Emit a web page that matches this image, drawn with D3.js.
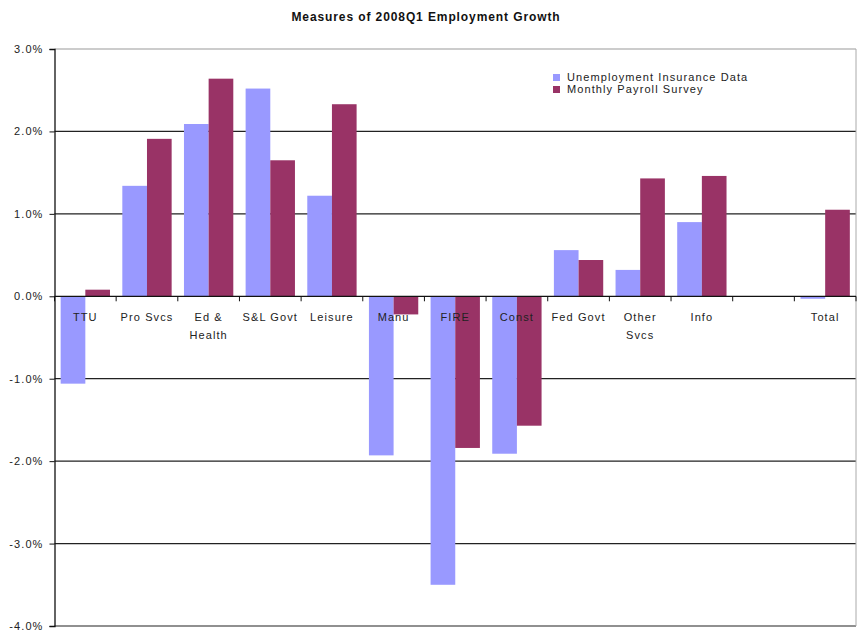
<!DOCTYPE html>
<html>
<head>
<meta charset="utf-8">
<script src="https://cdn.jsdelivr.net/npm/d3@7"></script>
<style>
  body { margin: 0; background: #fff; }
  text { font-family: 'Liberation Sans', Arial, sans-serif; }
</style>
</head>
<body>
<div id="container"></div>
<script>
const categories = ['TTU', 'Pro Svcs', 'Ed & Health', 'S&L Govt', 'Leisure', 'Manu', 'FIRE', 'Const', 'Fed Govt', 'Other Svcs', 'Info', '', 'Total'];
const series = ['Unemployment Insurance Data', 'Monthly Payroll Survey'];
const uiData = [-1.06, 1.34, 2.09, 2.52, 1.22, -1.93, -3.50, -1.91, 0.56, 0.32, 0.90, null, -0.03];
const payrollData = [0.08, 1.91, 2.64, 1.65, 2.33, -0.22, -1.84, -1.57, 0.44, 1.43, 1.46, null, 1.05];
const yTicks = [3, 2, 1, 0, -1, -2, -3, -4];
const colors = ['#9999ff', '#993366'];

const WIDTH = 857;
const HEIGHT = 635;

const svg = d3.select('#container').append('svg').attr('width', WIDTH).attr('height', HEIGHT);

const x = d3.scaleBand().domain(categories.map((d, i) => i)).range([54.5, 856]).paddingInner(0);
const x1 = d3.scaleBand().domain(series).range([0, x.bandwidth()]).paddingInner(0).paddingOuter(0.25);
const y = d3.scaleLinear().domain([-4, 3]).range([626, 49]);

// title
svg.append('text')
  .attr('x', 426).attr('y', 21)
  .attr('text-anchor', 'middle')
  .attr('font-size', 12).attr('font-weight', 'bold')
  .attr('letter-spacing', 0.9)
  .attr('fill', '#111')
  .text('Measures of 2008Q1 Employment Growth');

// gridlines
svg.append('g')
  .selectAll('line')
  .data(yTicks.filter((d) => d !== 0))
  .join('line')
  .attr('x1', 54.5).attr('x2', 856)
  .attr('y1', (d) => y(d)).attr('y2', (d) => y(d))
  .attr('stroke', (d) => (d === 3 ? '#999' : '#222'))
  .attr('stroke-width', 1.2);

// right border
svg.append('line')
  .attr('x1', 856).attr('x2', 856).attr('y1', y(3)).attr('y2', y(-4))
  .attr('stroke', '#aaa');

// bars
const rows = categories.map((c, i) => ({ i, values: [uiData[i], payrollData[i]] }));
const groups = svg.append('g').selectAll('g').data(rows).join('g')
  .attr('transform', (d) => `translate(${x(d.i)},0)`);

groups.selectAll('rect')
  .data((d) => d.values.map((v, k) => ({ v, k })).filter((e) => e.v !== null))
  .join('rect')
  .attr('x', (e) => x1(series[e.k]))
  .attr('width', x1.bandwidth())
  .attr('y', (e) => y(Math.max(0, e.v)))
  .attr('height', (e) => Math.max(1.5, Math.abs(y(e.v) - y(0))))
  .attr('fill', (e) => colors[e.k]);

// y axis
const yAxis = d3.axisLeft(y).tickValues(yTicks).tickSize(5).tickFormat((d) => d.toFixed(1) + '%');
svg.append('g')
  .attr('transform', 'translate(54.5,0)')
  .call(yAxis)
  .call((g) => g.select('.domain').attr('stroke', '#111').attr('stroke-width', 1.3))
  .call((g) => g.selectAll('.tick line').attr('stroke', '#111'))
  .call((g) => g.selectAll('.tick text')
    .attr('x', -11)
    .attr('font-size', 11)
    .attr('letter-spacing', 1.1)
    .attr('fill', '#222')
    .attr('font-family', "'Liberation Sans', Arial, sans-serif"));

// category axis at zero
svg.append('line')
  .attr('x1', 54.5).attr('x2', 856).attr('y1', y(0)).attr('y2', y(0))
  .attr('stroke', '#111').attr('stroke-width', 1.3);

svg.append('g')
  .selectAll('line')
  .data(d3.range(categories.length + 1))
  .join('line')
  .attr('x1', (i) => 54.5 + i * x.step()).attr('x2', (i) => 54.5 + i * x.step())
  .attr('y1', y(0)).attr('y2', y(0) + 5)
  .attr('stroke', '#111');

// category labels (wrapped like Excel)
const labels = svg.append('g')
  .attr('font-size', 11)
  .attr('letter-spacing', 1.1)
  .attr('text-anchor', 'middle')
  .attr('fill', '#222')
  .selectAll('text')
  .data(categories.map((c, i) => ({ c, i })))
  .join('text')
  .attr('x', (d) => x(d.i) + x.bandwidth() / 2)
  .attr('y', 321);

labels.each(function (d) {
  const t = d3.select(this);
  const words = d.c.split(' ');
  let line = [];
  let lineNo = 0;
  let tspan = t.append('tspan').attr('x', t.attr('x')).attr('dy', 0);
  words.forEach((w) => {
    line.push(w);
    tspan.text(line.join(' '));
    if (tspan.node().getComputedTextLength() > 56 && line.length > 1) {
      line.pop();
      tspan.text(line.join(' '));
      line = [w];
      lineNo++;
      tspan = t.append('tspan').attr('x', t.attr('x')).attr('dy', 18).text(w);
    }
  });
});

// legend
const legend = svg.append('g').attr('transform', 'translate(553,72)');
const item = legend.selectAll('g').data(series).join('g')
  .attr('transform', (d, i) => `translate(0,${i * 12})`);
item.append('rect').attr('width', 7).attr('height', 7).attr('y', 2).attr('fill', (d, i) => colors[i]);
item.append('text')
  .attr('x', 14).attr('y', 9)
  .attr('font-size', 11)
  .attr('letter-spacing', 1.1)
  .attr('fill', '#222')
  .text((d) => d);
</script>
</body>
</html>
